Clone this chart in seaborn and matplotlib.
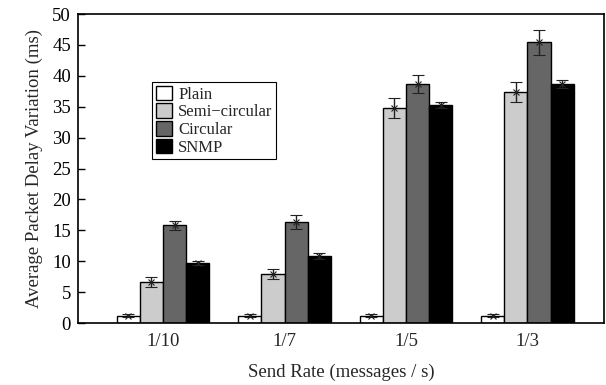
import matplotlib
matplotlib.use("Agg")
import matplotlib.pyplot as plt
import seaborn as sns
import pandas as pd
import numpy as np

rates = ["1/10", "1/7", "1/5", "1/3"]
schemes = ["Plain", "Semi\u2212circular", "Circular", "SNMP"]
plain = [1.2, 1.2, 1.2, 1.2]
semi = [6.6, 7.9, 34.8, 37.4]
circular = [15.8, 16.3, 38.7, 45.4]
snmp = [9.7, 10.8, 35.3, 38.7]
plain_err = [0.3, 0.3, 0.3, 0.3]
semi_err = [0.8, 0.8, 1.6, 1.6]
circular_err = [0.7, 1.1, 1.5, 2.0]
snmp_err = [0.35, 0.45, 0.5, 0.7]
colors = ["#ffffff", "#cccccc", "#666666", "#000000"]

values = [plain, semi, circular, snmp]
errors = [plain_err, semi_err, circular_err, snmp_err]
rows = []
for s, vals, errs in zip(schemes, values, errors):
    for r, v, e in zip(rates, vals, errs):
        rows.append({"rate": r, "scheme": s, "delay": v, "err": e})
df = pd.DataFrame(rows)

sns.set_theme(style="white")
plt.rcParams["font.family"] = ["Liberation Serif", "DejaVu Serif"]
plt.rcParams["font.size"] = 13.5

fig = plt.figure(figsize=(6.06, 3.85), dpi=100)
ax = fig.add_axes([0.1287, 0.161, 0.868, 0.8026])

sns.barplot(data=df, x="rate", y="delay", hue="scheme", order=rates,
            hue_order=schemes, palette=colors, width=0.76, gap=0,
            edgecolor="black", linewidth=1.0, errorbar=None, ax=ax,
            legend=True)

# error bars centred on each bar
for bars, errs, vals in zip(ax.containers, errors, values):
    for patch, e, v in zip(bars.patches, errs, vals):
        xc = patch.get_x() + patch.get_width() / 2
        ax.errorbar(xc, v, yerr=e, fmt="x", color="#222222", ms=5,
                    mew=0.8, elinewidth=1.0, capsize=4, capthick=1.0)

ax.set_xlim(-0.70, 3.63)
ax.set_ylim(0, 50)
ax.set_yticks(np.arange(0, 51, 5))
ax.set_xlabel("Send Rate (messages / s)", fontsize=13.5, labelpad=10)
ax.set_ylabel("Average Packet Delay Variation (ms)", fontsize=13.5, labelpad=7)
ax.tick_params(axis="y", direction="in", length=5, width=1, left=True,
               labelsize=13.5, pad=5, colors="black")
ax.tick_params(axis="x", length=0, labelsize=13.5, pad=7)
for sp in ax.spines.values():
    sp.set_color("black")
    sp.set_linewidth(1.2)

handles, labels = ax.get_legend_handles_labels()
leg = ax.legend(handles, labels, loc="upper left",
                bbox_to_anchor=(0.141, 0.78), frameon=True, fancybox=False,
                edgecolor="black", framealpha=1, fontsize=12,
                handlelength=0.95, handleheight=0.95, handletextpad=0.4,
                labelspacing=0.05, borderpad=0.22, borderaxespad=0)
leg.get_frame().set_linewidth(0.8)

fig.savefig("out.png", dpi=100)
